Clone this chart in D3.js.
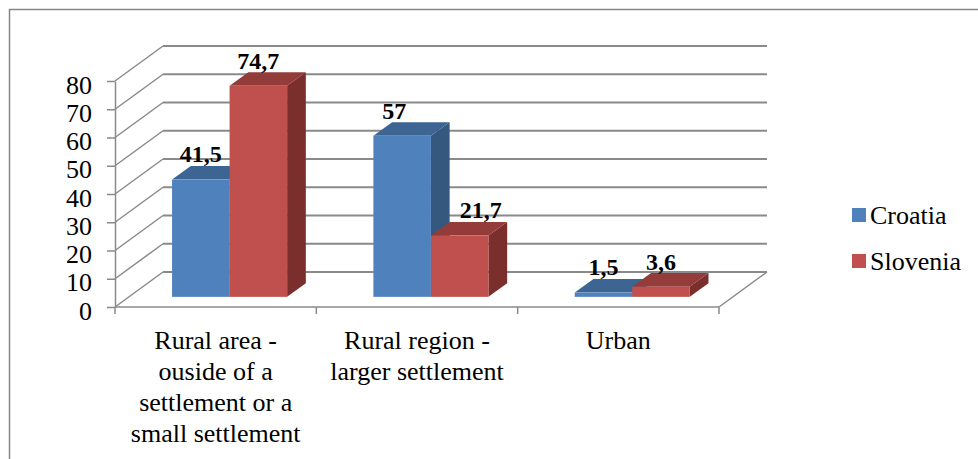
<!DOCTYPE html>
<html>
<head>
<meta charset="utf-8">
<script src="https://cdn.jsdelivr.net/npm/d3@7"></script>
</head>
<body style="margin:0">
<svg id="chart" width="978" height="459"></svg>
<script>
const categories = [
  "Rural area - ouside of a settlement or a small settlement",
  "Rural region - larger settlement",
  "Urban"
];
const seriesNames = ["Croatia", "Slovenia"];
const croatia = [41.5, 57, 1.5];
const slovenia = [74.7, 21.7, 3.6];
const yTicks = [0, 10, 20, 30, 40, 50, 60, 70, 80];
const valueLabels = ["41,5", "57", "1,5", "74,7", "21,7", "3,6"];

const colors = {
  Croatia:  { front: "#4F81BD", top: "#3D6593", side: "#35587F" },
  Slovenia: { front: "#C0504D", top: "#943C3A", side: "#7B2F2D" }
};

const FONT = "Liberation Serif";
const svg = d3.select("#chart");
const FS = 26;

function txt(sel) {
  return sel.attr("font-family", FONT).style("font-family", FONT).attr("fill", "#000");
}

// chart border
svg.append("rect").attr("x", 9.5).attr("y", 9.5).attr("width", 1000).attr("height", 500)
  .attr("fill", "none").attr("stroke", "#868686").attr("stroke-width", 1.5);

// 3D geometry
const DX = 48, DY = -35;       // full floor depth offset
const F0 = 0.29, FD = 0.39;    // bar front depth fraction and bar depth fraction

const x = d3.scaleBand().domain(categories).range([115, 719]).paddingInner(0).paddingOuter(0);
const xs = d3.scaleBand().domain(seriesNames).range([0, x.bandwidth()]).paddingInner(0).paddingOuter(0.75);
const y = d3.scaleLinear().domain([0, 80]).range([307, 81]);

const gridColor = "#8a8a8a";
const grid = svg.append("g");
yTicks.forEach(v => {
  grid.append("line")
    .attr("x1", 115 + DX).attr("x2", 719 + DX)
    .attr("y1", y(v) + DY).attr("y2", y(v) + DY)
    .attr("stroke", gridColor).attr("stroke-width", 1.8);
  grid.append("line")
    .attr("x1", 115).attr("y1", y(v))
    .attr("x2", 115 + DX).attr("y2", y(v) + DY)
    .attr("stroke", gridColor).attr("stroke-width", 1.5);
});
grid.append("line")
  .attr("x1", 719).attr("y1", y(0)).attr("x2", 719 + DX).attr("y2", y(0) + DY)
  .attr("stroke", gridColor).attr("stroke-width", 1.5);

// bars
const data = [];
categories.forEach((c, i) => {
  data.push({ cat: c, s: "Croatia", v: croatia[i], label: valueLabels[i], idx: i });
  data.push({ cat: c, s: "Slovenia", v: slovenia[i], label: valueLabels[3 + i], idx: i });
});

const bars = svg.append("g");
const fx = F0 * DX, fy = F0 * DY, bdx = FD * DX, bdy = FD * DY;
data.forEach(d => {
  const x0 = x(d.cat) + xs(d.s) + fx;
  const x1 = x0 + xs.bandwidth();
  const yb = y(0) + fy;
  const yt = y(d.v) + fy;
  const col = colors[d.s];
  const g = bars.append("g");
  g.append("path")
    .attr("d", `M${x0},${yt}L${x1},${yt}L${x1 + bdx},${yt + bdy}L${x0 + bdx},${yt + bdy}Z`)
    .attr("fill", col.top);
  g.append("path")
    .attr("d", `M${x1},${yt}L${x1 + bdx},${yt + bdy}L${x1 + bdx},${yb + bdy}L${x1},${yb}Z`)
    .attr("fill", col.side);
  g.append("rect")
    .attr("x", x0).attr("y", yt).attr("width", x1 - x0).attr("height", yb - yt)
    .attr("fill", col.front);
});

// value labels
const nudge = { "1-Croatia": -8, "1-Slovenia": 21 };
data.forEach(d => {
  const cx = x(d.cat) + xs(d.s) + fx + xs.bandwidth() / 2 + (nudge[d.idx + "-" + d.s] || 0);
  const ytop = y(d.v) + fy + bdy;
  txt(svg.append("text"))
    .attr("x", cx).attr("y", ytop - 3.5)
    .attr("text-anchor", "middle")
    .attr("font-size", 24).attr("font-weight", "bold")
    .text(d.label);
});

// y axis
const yAxis = d3.axisLeft(y).tickValues(yTicks).tickSize(8).tickSizeOuter(0).tickFormat(d3.format("d"));
const ya = svg.append("g").attr("transform", "translate(115,0)").call(yAxis);
ya.attr("font-family", FONT);
ya.select(".domain").attr("stroke", gridColor).attr("stroke-width", 1.5);
ya.selectAll(".tick line").attr("stroke", gridColor).attr("stroke-width", 1.5);
txt(ya.selectAll(".tick text"))
  .attr("x", -23).attr("dy", "0.35em").attr("y", 3)
  .attr("font-size", FS);

// category axis
const xa = svg.append("g");
xa.append("line").attr("x1", 115).attr("x2", 719).attr("y1", y(0)).attr("y2", y(0))
  .attr("stroke", gridColor).attr("stroke-width", 1.5);
const bounds = categories.map(c => x(c)).concat([x(categories[categories.length - 1]) + x.bandwidth()]);
bounds.forEach(b => {
  xa.append("line").attr("x1", b).attr("x2", b).attr("y1", y(0)).attr("y2", y(0) + 7)
    .attr("stroke", gridColor).attr("stroke-width", 1.5);
});

function wrapLines(str, maxW) {
  const words = str.split(" ");
  const tmp = txt(svg.append("text")).attr("font-size", FS);
  const lines = [];
  let cur = "";
  words.forEach(w => {
    const test = cur ? cur + " " + w : w;
    tmp.text(test);
    if (tmp.node().getComputedTextLength() > maxW && cur) {
      lines.push(cur);
      cur = w;
    } else cur = test;
  });
  if (cur) lines.push(cur);
  tmp.remove();
  return lines;
}

categories.forEach(c => {
  const lines = wrapLines(c, x.bandwidth() * 0.92);
  lines.forEach((ln, k) => {
    txt(xa.append("text")).attr("text-anchor", "middle").attr("font-size", FS)
      .attr("x", x(c) + x.bandwidth() / 2).attr("y", 349 + k * 31).text(ln);
  });
});

// legend
const lg = svg.append("g");
seriesNames.forEach((s, i) => {
  lg.append("rect").attr("x", 852).attr("y", 208 + i * 46).attr("width", 14).attr("height", 14)
    .attr("fill", colors[s].front);
  txt(lg.append("text")).attr("x", 870).attr("y", 224 + i * 46).attr("font-size", FS).text(s);
});
</script>
</body>
</html>
